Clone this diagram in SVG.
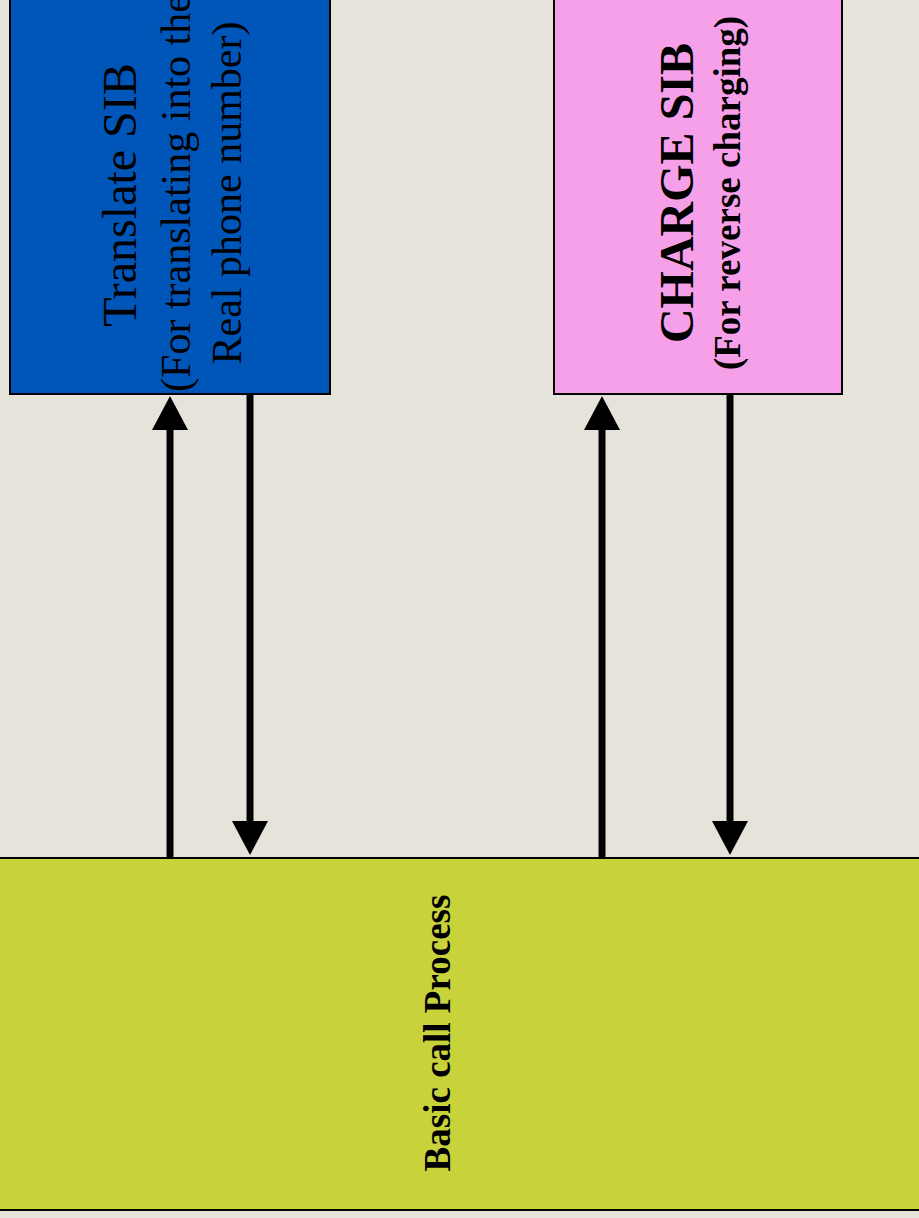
<svg xmlns="http://www.w3.org/2000/svg" width="919" height="1218" viewBox="0 0 919 1218">
  <style>
    .box { stroke: #000; stroke-width: 2; }
    .t { font-family: "Liberation Serif", "Times New Roman", serif; fill: #000; text-anchor: middle; }
    .b { font-weight: bold; }
    .conn { stroke: #000; stroke-width: 7; fill: none; marker-end: url(#head); }
  </style>
  <defs>
    <marker id="head" markerUnits="userSpaceOnUse" markerWidth="36" markerHeight="36" refX="1" refY="18" orient="auto" viewBox="0 0 34 36">
      <path d="M0,0 L34,18 L0,36 z" fill="#000"/>
    </marker>
  </defs>
  <rect x="0" y="0" width="919" height="1218" fill="#E6E4DA"/>

  <g id="translate-sib">
    <rect class="box" x="10" y="-10" width="320" height="404" fill="#0055B8"/>
    <text class="t" x="136" y="195" font-size="48" transform="rotate(-90 136 195)">Translate SIB</text>
    <text class="t" x="190" y="193" font-size="42" transform="rotate(-90 190 193)">(For translating into the</text>
    <text class="t" x="241" y="193" font-size="42" transform="rotate(-90 241 193)">Real phone number)</text>
  </g>

  <g id="charge-sib">
    <rect class="box" x="554" y="-10" width="288" height="404" fill="#F7A0EA"/>
    <text class="t b" x="693" y="193" font-size="48" transform="rotate(-90 693 193)">CHARGE SIB</text>
    <text class="t b" x="740" y="193" font-size="37" transform="rotate(-90 740 193)">(For reverse charging)</text>
  </g>

  <g id="basic-call-process">
    <rect class="box" x="-5" y="858" width="930" height="352" fill="#C8D23A"/>
    <text class="t b" x="450" y="1033" font-size="37" transform="rotate(-90 450 1033)">Basic call Process</text>
  </g>

  <g id="connectors">
    <line class="conn" x1="170" y1="857" x2="170" y2="429"/>
    <line class="conn" x1="250" y1="395" x2="250" y2="822"/>
    <line class="conn" x1="602" y1="857" x2="602" y2="429"/>
    <line class="conn" x1="730" y1="395" x2="730" y2="822"/>
  </g>
</svg>
